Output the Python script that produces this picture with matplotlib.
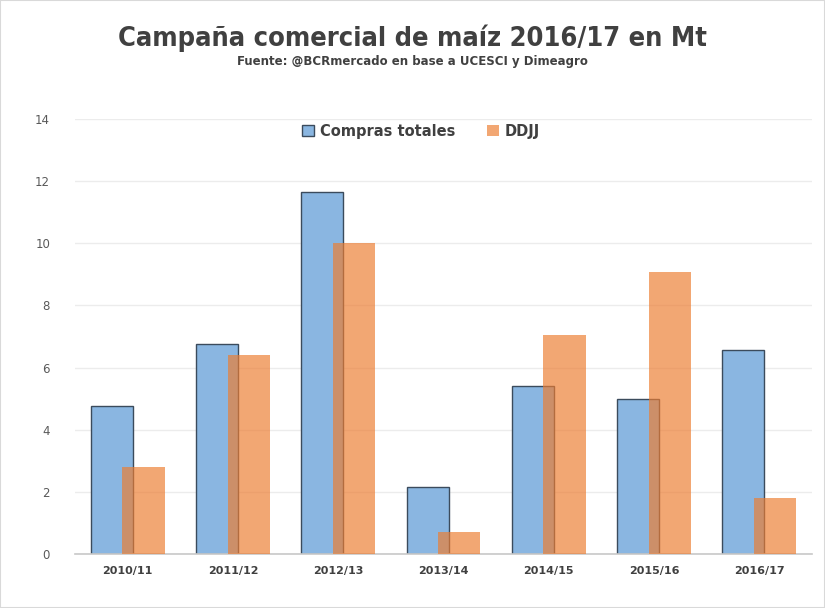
import numpy as np
import matplotlib.pyplot as plt

# datos de la campaña de maíz (Mt)
campanas = ['2010/11', '2011/12', '2012/13', '2013/14', '2014/15', '2015/16', '2016/17']
compras_totales = [4.75, 6.75, 11.65, 2.17, 5.42, 5.0, 6.58]
ddjj = [2.8, 6.4, 10.0, 0.72, 7.05, 9.08, 1.8]

plt.rcParams['font.family'] = ['DejaVu Sans']

fig = plt.figure(figsize=(8.25, 6.08), dpi=100)
ax = fig.add_axes([0.091, 0.089, 0.893, 0.715])

x = np.arange(len(campanas))
ax.bar(x - 0.15, compras_totales, width=0.4, color='#8AB6E1', edgecolor='#3B4B5C',
       linewidth=1, label='Compras totales', zorder=2)
ax.bar(x + 0.15, ddjj, width=0.4, color='#ED7D31', alpha=0.68,
       label='DDJJ', zorder=3)

ax.set_xlim(-0.5, len(campanas) - 0.5)
ax.set_ylim(0, 14)
ax.set_yticks(np.arange(0, 15, 2))
ax.set_xticks(x)
ax.set_xticklabels(campanas, fontsize=8, fontweight='bold', color='#404040')
ax.tick_params(axis='y', length=0, pad=18, labelsize=8.5, labelcolor='#595959')
ax.tick_params(axis='x', length=0, pad=9)
ax.grid(axis='y', color='#ececec', linewidth=1, zorder=0)
for s in ['left', 'right', 'top']:
    ax.spines[s].set_visible(False)
ax.spines['bottom'].set_color('#c8c8c8')
ax.spines['bottom'].set_linewidth(1.2)

leg = ax.legend(loc='upper center', bbox_to_anchor=(0.47, 1.02), ncol=2, frameon=False,
                fontsize=10.5, handlelength=0.8, handleheight=0.8, columnspacing=2.2,
                handletextpad=0.4)
for t in leg.get_texts():
    t.set_color('#404040')
    t.set_fontweight('bold')

fig.text(0.5, 0.937, 'Campaña comercial de maíz 2016/17 en Mt', ha='center', va='center',
         fontsize=19.5, fontweight='bold', color='#404040', fontstretch='condensed')
fig.text(0.5, 0.899, 'Fuente: @BCRmercado en base a UCESCI y Dimeagro', ha='center',
         va='center', fontsize=8.5, fontweight='bold', color='#404040')

fig.patches.append(plt.Rectangle((0, 0), 1, 1, transform=fig.transFigure, fill=False,
                                 edgecolor='#d9d9d9', linewidth=1.5))

fig.savefig('out.png', dpi=100)
